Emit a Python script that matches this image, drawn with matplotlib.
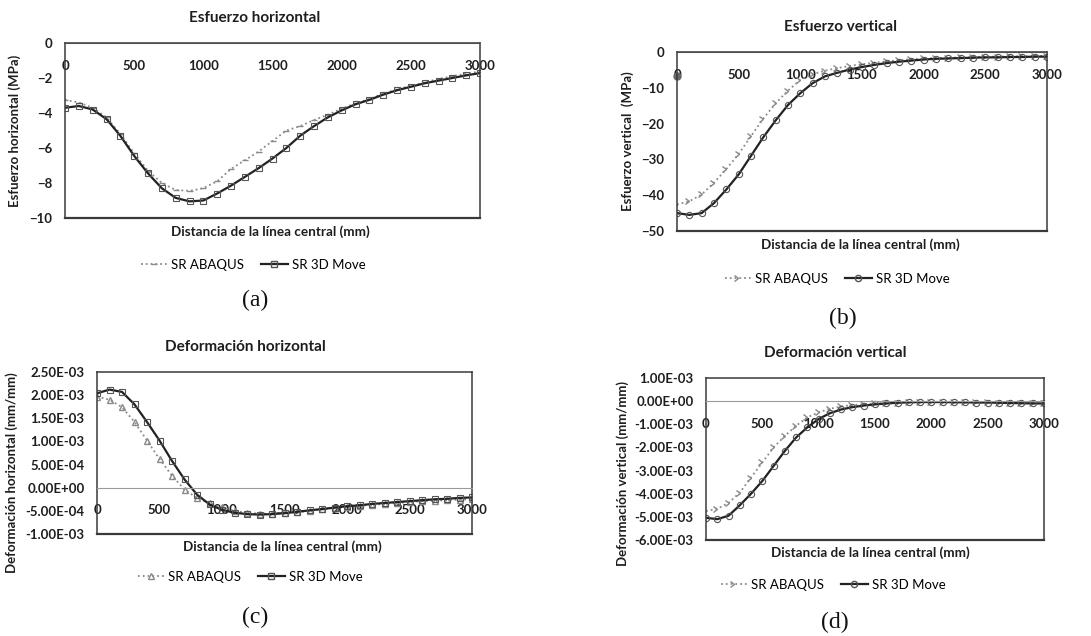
import matplotlib
matplotlib.use("Agg")
import matplotlib.pyplot as plt
from matplotlib.lines import Line2D
from matplotlib.ticker import FuncFormatter

W, H = 1091, 636
FONT = "Lato"

# ---------------- data ----------------
distancia = [0, 100, 200, 300, 400, 500, 600, 700, 800, 900, 1000,
             1100, 1200, 1300, 1400, 1500, 1600, 1700, 1800, 1900, 2000,
             2100, 2200, 2300, 2400, 2500, 2600, 2700, 2800, 2900, 3000]

# (a) Esfuerzo horizontal (MPa)
a_abaqus = [-3.25, -3.4, -3.7, -4.25, -5.2, -6.3, -7.3, -8.0, -8.4, -8.45, -8.3,
            -7.9, -7.2, -6.7, -6.2, -5.6, -5.0, -4.75, -4.4, -4.1, -3.75,
            -3.45, -3.2, -2.9, -2.65, -2.45, -2.25, -2.05, -1.9, -1.75, -1.63]
a_move = [-3.7, -3.6, -3.8, -4.35, -5.3, -6.45, -7.45, -8.3, -8.85, -9.05, -9.0,
          -8.6, -8.15, -7.65, -7.15, -6.6, -6.0, -5.3, -4.75, -4.25, -3.85,
          -3.5, -3.25, -2.95, -2.7, -2.5, -2.3, -2.15, -2.0, -1.85, -1.72]

# (b) Esfuerzo vertical (MPa)
b_abaqus = [-42.6, -41.7, -39.8, -36.5, -32.7, -28.5, -23.5, -18.6, -14.3, -10.8, -7.8,
            -6.2, -5.2, -4.5, -3.9, -3.4, -3.0, -2.6, -2.3, -2.0, -1.8,
            -1.7, -1.6, -1.5, -1.4, -1.3, -1.3, -1.2, -1.2, -1.1, -1.1]
b_move = [-45.0, -45.5, -45.0, -42.2, -38.4, -34.2, -29.0, -23.8, -19.1, -14.8, -11.5,
          -8.7, -6.8, -5.8, -4.9, -4.2, -3.6, -3.1, -2.7, -2.4, -2.1,
          -1.9, -1.8, -1.7, -1.6, -1.5, -1.5, -1.4, -1.4, -1.3, -1.3]
b_punto_x = [0]
b_punto_y = [-6.8]

# (c) Deformación horizontal (mm/mm)
c_abaqus = [1.97e-3, 1.90e-3, 1.74e-3, 1.42e-3, 1.02e-3, 0.62e-3, 0.26e-3, -0.04e-3, -0.22e-3, -0.34e-3, -0.42e-3,
            -0.50e-3, -0.54e-3, -0.56e-3, -0.56e-3, -0.55e-3, -0.53e-3, -0.50e-3, -0.47e-3, -0.44e-3, -0.41e-3,
            -0.39e-3, -0.37e-3, -0.35e-3, -0.33e-3, -0.31e-3, -0.29e-3, -0.28e-3, -0.27e-3, -0.26e-3, -0.25e-3]
c_move = [2.04e-3, 2.12e-3, 2.07e-3, 1.80e-3, 1.42e-3, 1.02e-3, 0.58e-3, 0.18e-3, -0.15e-3, -0.36e-3, -0.48e-3,
          -0.54e-3, -0.57e-3, -0.58e-3, -0.57e-3, -0.55e-3, -0.52e-3, -0.49e-3, -0.46e-3, -0.43e-3, -0.40e-3,
          -0.38e-3, -0.35e-3, -0.33e-3, -0.31e-3, -0.29e-3, -0.27e-3, -0.25e-3, -0.24e-3, -0.22e-3, -0.21e-3]

# (d) Deformación vertical (mm/mm)
d_abaqus = [-4.75e-3, -4.65e-3, -4.4e-3, -3.95e-3, -3.3e-3, -2.65e-3, -2.0e-3, -1.5e-3, -1.06e-3, -0.7e-3, -0.48e-3,
            -0.33e-3, -0.23e-3, -0.17e-3, -0.13e-3, -0.10e-3, -0.08e-3, -0.06e-3, -0.05e-3, -0.04e-3, -0.04e-3,
            -0.04e-3, -0.04e-3, -0.05e-3, -0.05e-3, -0.05e-3, -0.06e-3, -0.06e-3, -0.07e-3, -0.07e-3, -0.08e-3]
d_move = [-5.04e-3, -5.1e-3, -4.95e-3, -4.5e-3, -4.0e-3, -3.45e-3, -2.8e-3, -2.15e-3, -1.57e-3, -1.13e-3, -0.77e-3,
          -0.52e-3, -0.36e-3, -0.26e-3, -0.19e-3, -0.14e-3, -0.10e-3, -0.07e-3, -0.05e-3, -0.04e-3, -0.04e-3,
          -0.04e-3, -0.05e-3, -0.05e-3, -0.06e-3, -0.06e-3, -0.07e-3, -0.08e-3, -0.09e-3, -0.10e-3, -0.10e-3]

x_ticks = [0, 500, 1000, 1500, 2000, 2500, 3000]
a_yticks = [0, -2, -4, -6, -8, -10]
b_yticks = [0, -10, -20, -30, -40, -50]
c_yticks = [2.5e-3, 2.0e-3, 1.5e-3, 1.0e-3, 5e-4, 0.0, -5e-4, -1.0e-3]
d_yticks = [1e-3, 0.0, -1e-3, -2e-3, -3e-3, -4e-3, -5e-3, -6e-3]

titles = ["Esfuerzo horizontal", "Esfuerzo vertical", "Deformación horizontal", "Deformación vertical"]
ylabels = ["Esfuerzo horizontal (MPa)", "Esfuerzo vertical  (MPa)",
           "Deformación horizontal (mm/mm)", "Deformación vertical (mm/mm)"]
xlabel = "Distancia de la línea central (mm)"
series_names = ["SR ABAQUS", "SR 3D Move"]
panel_letters = ["(a)", "(b)", "(c)", "(d)"]

# ---------------- figure ----------------
fig = plt.figure(figsize=(W / 100, H / 100), dpi=100)
fig.patch.set_facecolor("white")


def px(x, y):
    return x / W, 1 - y / H


def make_ax(left, top, right, bottom):
    l, t = px(left, top)
    r, b = px(right, bottom)
    return fig.add_axes([l, b, r - l, t - b])


sci = FuncFormatter(lambda v, p: f"{v:.2E}")
dark = "#222222"
grey = "#8a8a8a"
TXT = "#1e1e1e"

panels = [
    dict(box=(65, 43, 480, 218), y=(a_abaqus, a_move), ylim=(-10, 0), yt=a_yticks, fmt=None,
         m_ab="_", m_mv="s", title=(255, 18), xl=(270, 232), yl=(15, 131), leg=(253, 265),
         let=(255, 300)),
    dict(box=(677, 52, 1047, 231), y=(b_abaqus, b_move), ylim=(-50, 0), yt=b_yticks, fmt=None,
         m_ab=5, m_mv="o", title=(840, 27), xl=(860, 245), yl=(628, 141), leg=(837, 279),
         let=(843, 318)),
    dict(box=(97, 372, 472, 534), y=(c_abaqus, c_move), ylim=(-1e-3, 2.5e-3), yt=c_yticks, fmt=sci,
         m_ab="^", m_mv="s", title=(245, 347), xl=(282, 547), yl=(12, 473), leg=(250, 577),
         let=(255, 617)),
    dict(box=(706, 378, 1044, 540), y=(d_abaqus, d_move), ylim=(-6e-3, 1e-3), yt=d_yticks, fmt=sci,
         m_ab=5, m_mv="o", title=(835, 353), xl=(870, 553), yl=(623, 474), leg=(833, 585),
         let=(835, 622)),
]

for i, p in enumerate(panels):
    ax = make_ax(*p["box"])
    ab, mv = p["y"]
    ax.plot(distancia, ab, color=grey, lw=1.3, ls=":", marker=p["m_ab"], ms=4,
            mfc="none", mec=grey, mew=1.0)
    ax.plot(distancia, mv, color=dark, lw=1.6, ls="-", marker=p["m_mv"], ms=4.5,
            mfc="none", mec="#555555", mew=0.8)
    if i == 1:
        ax.plot(b_punto_x, b_punto_y, ls="none", marker="o", ms=5, color="#666666", clip_on=False)
    ax.set_xlim(0, 3000)
    ax.set_ylim(*p["ylim"])
    ax.set_xticks(x_ticks)
    ax.set_yticks(p["yt"])
    if p["fmt"] is not None:
        ax.yaxis.set_major_formatter(p["fmt"])
    # horizontal axis crossing at zero, labels below it (Excel style)
    ax.spines["bottom"].set_position(("data", 0))
    ax.spines["bottom"].set_color("#9a9a9a")
    ax.spines["bottom"].set_linewidth(0.8)
    ax.spines["bottom"].set_linestyle((0, (2, 1)))
    for s in ("left", "right", "top"):
        ax.spines[s].set_color("#3a3a3a")
        ax.spines[s].set_linewidth(1.1)
    ax.axhline(p["ylim"][0], color="#3a3a3a", lw=1.6, clip_on=False)
    ax.tick_params(axis="x", length=0, pad=12, labelsize=9.5, colors=TXT)
    ax.tick_params(axis="y", length=0, pad=9, labelsize=9.5, colors=TXT)
    for lab in ax.get_xticklabels() + ax.get_yticklabels():
        lab.set_fontfamily(FONT)
        lab.set_fontweight("bold")
    ax.set_facecolor("none")

    tx, ty = px(*p["title"])
    fig.text(tx, ty, titles[i], ha="center", va="center", fontsize=11,
             fontweight="bold", family=FONT, color=TXT)
    xx, xy = px(*p["xl"])
    fig.text(xx, xy, xlabel, ha="center", va="center", fontsize=9.7,
             fontweight="bold", family=FONT, color=TXT)
    yx, yy = px(*p["yl"])
    fig.text(yx, yy, ylabels[i], ha="center", va="center", rotation=90, fontsize=9.5,
             fontweight="bold", family=FONT, color=TXT)

    handles = [
        Line2D([], [], color=grey, lw=1.3, ls=":", marker=p["m_ab"], ms=4,
               mfc="none", mec=grey),
        Line2D([], [], color=dark, lw=1.6, marker=p["m_mv"], ms=4.5, mfc="none", mec="#555555"),
    ]
    lx, ly = px(*p["leg"])
    fig.legend(handles, series_names, loc="center", bbox_to_anchor=(lx, ly), ncol=2,
               frameon=False, handlelength=2.0, columnspacing=1.3, handletextpad=0.3,
               prop={"family": FONT, "size": 9.5})
    lx2, ly2 = px(*p["let"])
    fig.text(lx2, ly2, panel_letters[i], ha="center", va="center", fontsize=17,
             family="Liberation Serif", color="#111111")

fig.savefig("out.png", dpi=100, facecolor="white")
